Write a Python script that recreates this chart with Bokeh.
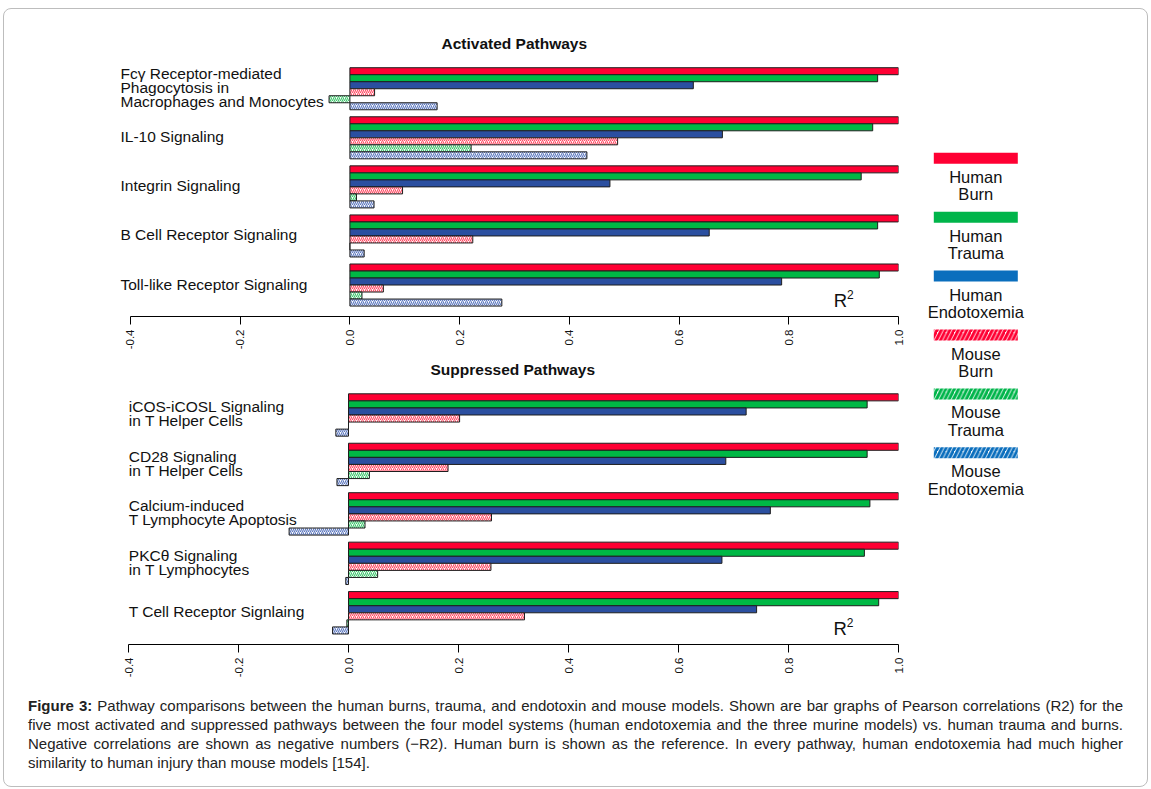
import math
from bokeh.plotting import figure
from bokeh.models import Range1d, LinearAxis, FixedTicker, PrintfTickFormatter, ColumnDataSource, Div
from bokeh.layouts import row, column
from bokeh.core.properties import value
from bokeh.embed import file_html
from bokeh.resources import INLINE

# ---------------- data ----------------
series = ["Human Burn", "Human Trauma", "Human Endotoxemia",
          "Mouse Burn", "Mouse Trauma", "Mouse Endotoxemia"]

activated_pathways = ["Fc\u03b3 Receptor-mediated\nPhagocytosis in\nMacrophages and Monocytes",
                      "IL-10 Signaling", "Integrin Signaling",
                      "B Cell Receptor Signaling", "Toll-like Receptor Signaling"]
act_human_burn = [1.0, 1.0, 1.0, 1.0, 1.0]
act_human_trauma = [0.962, 0.953, 0.932, 0.962, 0.965]
act_human_endo = [0.626, 0.679, 0.474, 0.655, 0.787]
act_mouse_burn = [0.045, 0.488, 0.096, 0.224, 0.061]
act_mouse_trauma = [-0.038, 0.221, 0.012, 0.0, 0.022]
act_mouse_endo = [0.159, 0.432, 0.044, 0.026, 0.277]

suppressed_pathways = ["iCOS-iCOSL Signaling\nin T Helper Cells",
                       "CD28 Signaling\nin T Helper Cells",
                       "Calcium-induced\nT Lymphocyte Apoptosis",
                       "PKC\u03b8 Signaling\nin T Lymphocytes",
                       "T Cell Receptor Signlaing"]
sup_human_burn = [1.0, 1.0, 1.0, 1.0, 1.0]
sup_human_trauma = [0.943, 0.943, 0.948, 0.938, 0.964]
sup_human_endo = [0.723, 0.686, 0.767, 0.679, 0.742]
sup_mouse_burn = [0.202, 0.181, 0.260, 0.259, 0.320]
sup_mouse_trauma = [0.0, 0.038, 0.030, 0.053, -0.003]
sup_mouse_endo = [-0.023, -0.021, -0.108, -0.005, -0.029]

ticks = [-0.4, -0.2, 0.0, 0.2, 0.4, 0.6, 0.8, 1.0]

caption_lines = [
    "<b>Figure 3:</b> Pathway comparisons between the human burns, trauma, and endotoxin and mouse models. Shown are bar graphs of Pearson correlations (R2) for the",
    "five most activated and suppressed pathways between the four model systems (human endotoxemia and the three murine models) vs. human trauma and burns.",
    "Negative correlations are shown as negative numbers (\u2212R2). Human burn is shown as the reference. In every pathway, human endotoxemia had much higher",
    "similarity to human injury than mouse models [154].",
]

# ---------------- styles ----------------
FONT = "Liberation Sans"
bar_colors = ["#FF0033", "#00B845", "#2B4FA0", None, None, None]
hatch_colors = [None, None, None, "#FF4A63", "#3CC46A", "#5C78C0"]
legend_colors = ["#FF0033", "#00B54A", "#0A6EBD", "#FF0033", "#00B54A", "#0A6EBD"]
UNIT = 7.064          # px per bar
FRAME_H = 263
GROUP = 7             # 6 bars + 1 gap


def make_chart(title, cats, vals, width, height, border_top, border_left, border_right,
               x_left, label_x, title_offset):
    span = FRAME_H / UNIT
    u_top = -12.3 / UNIT
    p = figure(width=width, height=height,
               x_range=Range1d(x_left, 1.0),
               y_range=Range1d(u_top + span, u_top),
               x_axis_location=None, y_axis_location=None,
               output_backend="svg", toolbar_location=None,
               min_border_top=border_top, min_border_left=border_left,
               min_border_right=border_right,
               min_border_bottom=height - border_top - FRAME_H,
               outline_line_color=None, border_fill_color=None,
               background_fill_color=None)
    p.grid.visible = False
    p.title.text = title
    p.title.text_font = FONT
    p.title.text_font_size = "15.5px"
    p.title.text_font_style = "bold"
    p.title.align = "left"
    p.title.offset = title_offset
    p.title.standoff = 7
    p.title.text_color = "#111111"

    for s in range(6):
        ys = [GROUP * g + s + 0.5 for g in range(len(cats))]
        src = ColumnDataSource(dict(y=ys, v=vals[s]))
        if s < 3:
            p.hbar(y="y", height=1, left=0, right="v", source=src,
                   fill_color=bar_colors[s], line_color="#1e1e1e", line_width=1)
        else:
            p.hbar(y="y", height=1, left=0, right="v", source=src,
                   fill_color="white", hatch_pattern="/", hatch_color=hatch_colors[s],
                   hatch_scale=4, hatch_weight=1.1,
                   line_color="#1e1e1e", line_width=1)

    # category labels
    lx, ly, lt = [], [], []
    for g, c in enumerate(cats):
        lines = c.split("\n")
        n = len(lines)
        for i, t in enumerate(lines):
            off = (i - (n - 1) / 2) * 14.0 - 1.0
            lx.append(label_x)
            ly.append(GROUP * g + 3 + off / UNIT)
            lt.append(t)
    p.text(x=lx, y=ly, text=lt, text_font=value(FONT), text_font_size="15.5px",
           text_align="left", text_baseline="middle", text_color="#111111")

    # R^2 label
    p.text(x=[0.882], y=[33.2], text=["R"], text_font=value(FONT), text_font_size="18.5px",
           text_align="left", text_baseline="middle", text_color="#111111")
    p.text(x=[0.906], y=[32.4], text=["2"], text_font=value(FONT), text_font_size="12px",
           text_align="left", text_baseline="middle", text_color="#111111")

    ax = LinearAxis(ticker=FixedTicker(ticks=ticks),
                    formatter=PrintfTickFormatter(format="%.1f"),
                    bounds=(-0.4, 1.0),
                    major_label_orientation=math.pi / 2,
                    major_tick_out=8, major_tick_in=0,
                    minor_tick_out=0, minor_tick_in=0,
                    major_label_standoff=5,
                    major_label_text_font=FONT,
                    major_label_text_font_size="11.5px",
                    major_label_text_color="#111111",
                    axis_line_color="black", major_tick_line_color="black",
                    axis_line_width=1, major_tick_line_width=1)
    p.add_layout(ax, "below")
    return p


act_vals = [act_human_burn, act_human_trauma, act_human_endo,
            act_mouse_burn, act_mouse_trauma, act_mouse_endo]
sup_vals = [sup_human_burn, sup_human_trauma, sup_human_endo,
            sup_mouse_burn, sup_mouse_trauma, sup_mouse_endo]

# page content begins at x=4, y=9 (border box at x=3, y=8)
# top chart: 0 at page x 350, 1 at 900; frame 112..900, page y 55..318
p1 = make_chart("Activated Pathways", activated_pathways, act_vals,
                width=916, height=343, border_top=46, border_left=108, border_right=20,
                x_left=(112 - 350) / 550, label_x=(120 - 350) / 550, title_offset=329)
# bottom chart: 0 at page x 348, 1 at 898; frame page y 381..644
p2 = make_chart("Suppressed Pathways", suppressed_pathways, sup_vals,
                width=916, height=328, border_top=29, border_left=108, border_right=22,
                x_left=(112 - 348) / 550, label_x=(128.3 - 348) / 550, title_offset=318)

# ---------------- legend ----------------
pl = figure(width=227, height=671, x_range=Range1d(920, 1147), y_range=Range1d(680, 9),
            x_axis_location=None, y_axis_location=None, output_backend="svg",
            toolbar_location=None, min_border=0, outline_line_color=None,
            border_fill_color=None, background_fill_color=None)
pl.grid.visible = False
for i, name in enumerate(series):
    cy = 157.8 + 58.9 * i
    if i < 3:
        pl.rect(x=[975.3], y=[cy], width=84, height=11, fill_color=legend_colors[i],
                line_color=None)
    else:
        pl.rect(x=[975.3], y=[cy], width=84, height=11, fill_color="white",
                hatch_pattern="/", hatch_color=legend_colors[i], hatch_scale=8.5,
                hatch_weight=3, line_color=None)
    w1, w2 = name.split(" ", 1)
    pl.text(x=[975.3, 975.3], y=[cy + 18.5, cy + 36], text=[w1, w2],
            text_font=value(FONT), text_font_size="16.5px", text_align="center",
            text_baseline="middle", text_color="#111111")

# ---------------- caption ----------------
inner = ""
for i, line in enumerate(caption_lines):
    last = "justify" if i < len(caption_lines) - 1 else "left"
    inner += ('<div style="text-align:justify;text-align-last:%s;white-space:nowrap;">%s</div>'
              % (last, line))
html = ('<div style="box-sizing:border-box;padding:16px 0 0 24px;width:1119px;'
        'font-family:\'Liberation Sans\',Arial,sans-serif;'
        'font-size:15px;line-height:19px;color:#222222;">' + inner + '</div>')
cap = Div(text=html, width=1143, height=106, margin=0)

layout = column(row(column(p1, p2), pl), cap,
                styles={"border": "1px solid #bdbdbd", "border-radius": "8px",
                        "position": "relative", "left": "3px", "top": "8px"})

open("out.html", "w").write(file_html(layout, INLINE))
